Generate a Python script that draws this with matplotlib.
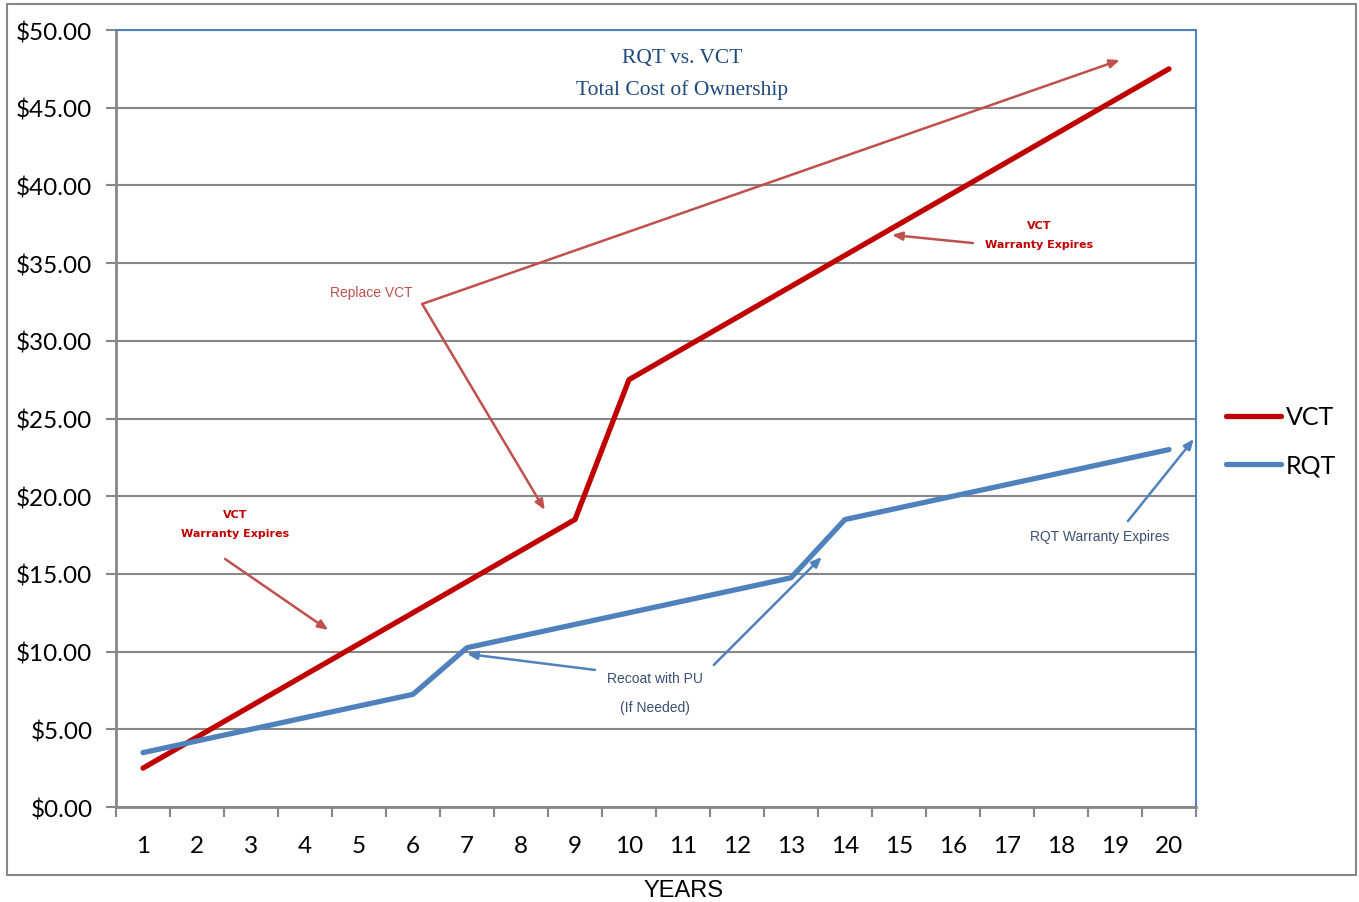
import matplotlib
matplotlib.use("Agg")
import matplotlib.pyplot as plt
from matplotlib.patches import Rectangle
from matplotlib.ticker import FuncFormatter, MultipleLocator

years = list(range(1, 21))
vct = [2.5, 4.5, 6.5, 8.5, 10.5, 12.5, 14.5, 16.5, 18.5, 27.5,
       29.5, 31.5, 33.5, 35.5, 37.5, 39.5, 41.5, 43.5, 45.5, 47.5]
rqt = [3.5, 4.25, 5.0, 5.75, 6.5, 7.25, 10.25, 11.0, 11.75, 12.5,
       13.25, 14.0, 14.75, 18.5, 19.25, 20.0, 20.75, 21.5, 22.25, 23.0]

W, H = 1359, 903
fig = plt.figure(figsize=(W / 100, H / 100), dpi=100)
ax = fig.add_axes([116 / W, 1 - 808 / H, (1196 - 116) / W, (808 - 31) / H])

RED = "#C00000"
BLUE = "#4F81BD"
GREY = "#878787"
ANN_RED = "#C0504D"
ANN_BLUE = "#3B4F72"
TITLE_BLUE = "#1F497D"

ax.plot(years, vct, color=RED, lw=3.8, solid_capstyle="round", solid_joinstyle="round", label="VCT", zorder=5)
ax.plot(years, rqt, color=BLUE, lw=3.8, solid_capstyle="round", solid_joinstyle="round", label="RQT", zorder=5)

ax.set_xlim(0.5, 20.5)
ax.set_ylim(0, 50)
ax.set_xticks(years)
ax.set_xticks([y + 0.5 for y in range(0, 21)], minor=True)
ax.tick_params(axis="x", which="major", length=0, pad=20, labelsize=17.5)
ax.tick_params(axis="x", which="minor", length=7, width=1.5, color=GREY, direction="out")
ax.yaxis.set_major_locator(MultipleLocator(5))
ax.yaxis.set_major_formatter(FuncFormatter(lambda v, p: f"${v:.2f}"))
ax.tick_params(axis="y", which="major", length=7, width=1.5, color=GREY, direction="out", pad=10, labelsize=17.5)
for lab in ax.get_xticklabels() + ax.get_yticklabels():
    lab.set_fontfamily("Lato")

ax.grid(axis="y", color=GREY, lw=1.5)
ax.set_axisbelow(True)
for s in ("left", "bottom"):
    ax.spines[s].set_color(GREY)
    ax.spines[s].set_linewidth(2)
for s in ("top", "right"):
    ax.spines[s].set_color(BLUE)
    ax.spines[s].set_linewidth(1.5)

# Title
ax.text(10.98, 48.26, "RQT vs. VCT", ha="center", va="center", fontsize=15.5,
        family="Liberation Serif", color=TITLE_BLUE)
ax.text(10.98, 46.2, "Total Cost of Ownership", ha="center", va="center", fontsize=15.5,
        family="Liberation Serif", color=TITLE_BLUE)

def arrow(x0, y0, x1, y1, color, clip=True):
    ax.annotate("", xy=(x1, y1), xytext=(x0, y0),
                arrowprops=dict(arrowstyle="-|>,head_length=0.6,head_width=0.25", color=color, lw=1.8,
                                shrinkA=0, shrinkB=0), zorder=6, annotation_clip=clip)

# Replace VCT
ax.text(5.22, 33.14, "Replace VCT", ha="center", va="center", fontsize=10,
        family="Liberation Sans", color=ANN_RED)
arrow(6.17, 32.37, 19.09, 48.07, ANN_RED)
arrow(6.17, 32.37, 8.44, 19.11, ANN_RED)

# VCT warranty expires (upper)
ax.text(17.59, 37.45, "VCT", ha="center", va="center", fontsize=8,
        family="DejaVu Sans", weight="bold", color=RED)
ax.text(17.59, 36.23, "Warranty Expires", ha="center", va="center", fontsize=8,
        family="DejaVu Sans", weight="bold", color=RED)
arrow(16.37, 36.29, 14.87, 36.81, ANN_RED)

# VCT warranty expires (lower)
ax.text(2.70, 18.85, "VCT", ha="center", va="center", fontsize=8,
        family="DejaVu Sans", weight="bold", color=RED)
ax.text(2.70, 17.63, "Warranty Expires", ha="center", va="center", fontsize=8,
        family="DejaVu Sans", weight="bold", color=RED)
arrow(2.52, 15.96, 4.43, 11.39, ANN_RED)

# Recoat
ax.text(10.48, 8.30, "Recoat with PU", ha="center", va="center", fontsize=10,
        family="Liberation Sans", color=ANN_BLUE)
ax.text(10.48, 6.43, "(If Needed)", ha="center", va="center", fontsize=10,
        family="Liberation Sans", color=ANN_BLUE)
arrow(9.37, 8.82, 7.0, 9.85, BLUE)
arrow(11.57, 9.14, 13.57, 16.09, BLUE)

# RQT warranty expires
ax.text(18.72, 17.44, "RQT Warranty Expires", ha="center", va="center", fontsize=10,
        family="Liberation Sans", color=ANN_BLUE)
arrow(19.24, 18.40, 20.46, 23.68, BLUE, clip=False)

# X axis label
fig.text(683 / W, 1 - 891 / H, "YEARS", ha="center", va="center", fontsize=17,
         family="Liberation Sans", color="black")

# Legend
leg = fig.legend(loc="center left", bbox_to_anchor=(1226 / W, 1 - 442 / H), frameon=False,
                 prop=dict(family="Lato", size=18), handlelength=2.2, handletextpad=0.2,
                 labelspacing=1.0, borderaxespad=0, borderpad=0)

# Outer chart border
fig.patches.append(Rectangle((7 / W, 1 - 876 / H), (1356 - 7) / W, (876 - 5) / H,
                             transform=fig.transFigure, fill=False, edgecolor=GREY, lw=1.5))

fig.savefig("out.png", dpi=100)
